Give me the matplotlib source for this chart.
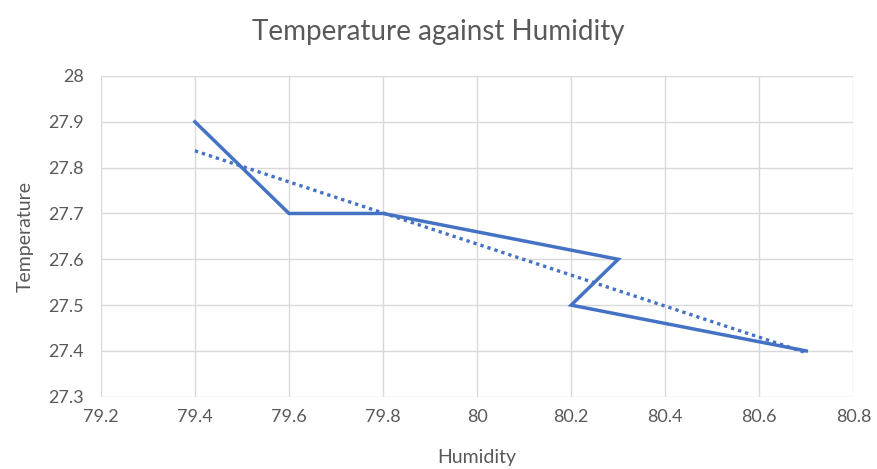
import numpy as np
from matplotlib import pyplot as plt

# data
humidity = [79.4, 79.6, 79.8, 80.3, 80.2, 80.7]
temperature = [27.9, 27.7, 27.7, 27.6, 27.5, 27.4]
x_ticks = [79.2, 79.4, 79.6, 79.8, 80.0, 80.2, 80.4, 80.6, 80.8]
x_labels = ['79.2', '79.4', '79.6', '79.8', '80', '80.2', '80.4', '80.6', '80.8']
y_ticks = [27.3, 27.4, 27.5, 27.6, 27.7, 27.8, 27.9, 28.0]
y_labels = ['27.3', '27.4', '27.5', '27.6', '27.7', '27.8', '27.9', '28']

plt.rcParams['font.family'] = ['Lato', 'DejaVu Sans']
grey = '#595959'
blue = '#4472C4'

fig = plt.figure(figsize=(8.77, 4.69), dpi=100)
ax = fig.add_axes([0.115, 0.154, 0.858, 0.684])

ax.plot(humidity, temperature, color=blue, lw=2.5, solid_joinstyle='miter')

# linear trendline (as Excel computes it)
slope, intercept = np.polyfit(humidity, temperature, 1)
tx = np.array([min(humidity), max(humidity)])
ax.plot(tx, slope * tx + intercept, color=blue, lw=2.4, linestyle=(0, (1, 1.2)))

ax.set_xlim(79.2, 80.8)
ax.set_ylim(27.3, 28.0)
ax.set_xticks(x_ticks)
ax.set_xticklabels(x_labels)
ax.set_yticks(y_ticks)
ax.set_yticklabels(y_labels)
ax.tick_params(length=0, colors=grey, labelsize=13)
ax.tick_params(axis='y', pad=12)
ax.tick_params(axis='x', pad=9)
ax.grid(True, color='#D9D9D9', lw=1)
ax.set_axisbelow(True)
for s in ax.spines.values():
    s.set_visible(False)

ax.set_xlabel('Humidity', color=grey, fontsize=14, labelpad=17)
ax.set_ylabel('Temperature', color=grey, fontsize=14, labelpad=11)
fig.suptitle('Temperature against Humidity', color=grey, fontsize=20, y=0.96)

fig.savefig('out.png', dpi=100)
